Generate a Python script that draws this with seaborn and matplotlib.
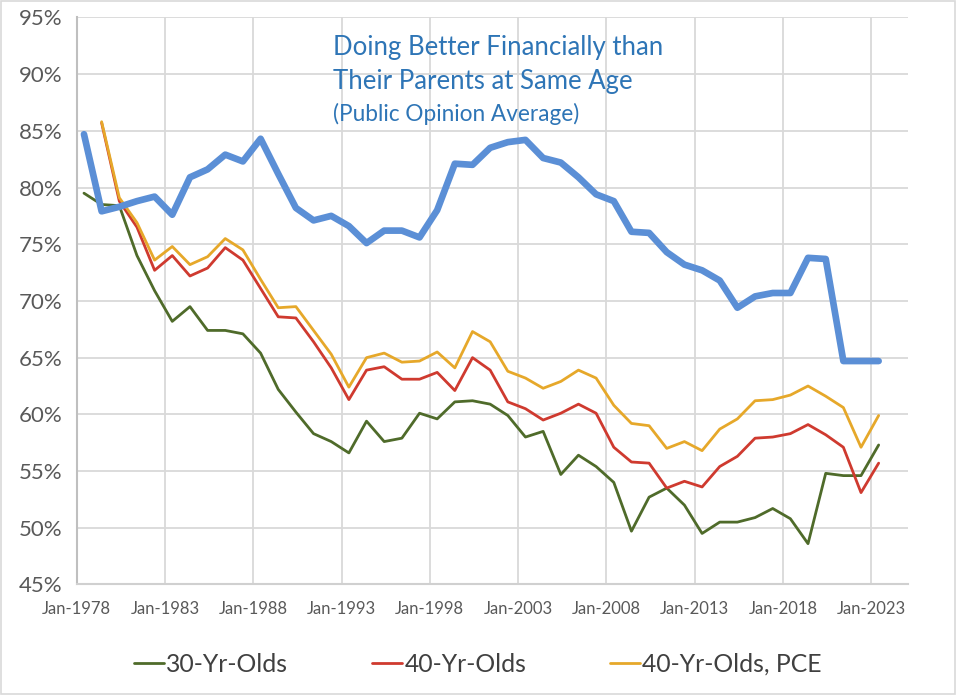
import numpy as np
import pandas as pd
import matplotlib
matplotlib.use("Agg")
import matplotlib.pyplot as plt
import matplotlib.dates as mdates
from matplotlib.ticker import FuncFormatter
import seaborn as sns

# Values (percent), one point per year (mid-year)
years_all = list(range(1978, 2024))
years_40 = list(range(1979, 2024))

opinion_avg = [84.7, 77.9, 78.3, 78.8, 79.2, 77.6, 80.9, 81.6, 82.9, 82.3,
               84.3, 81.2, 78.2, 77.1, 77.5, 76.6, 75.1, 76.2, 76.2, 75.6,
               78.0, 82.1, 82.0, 83.5, 84.0, 84.2, 82.6, 82.2, 80.9, 79.4,
               78.8, 76.1, 76.0, 74.3, 73.2, 72.7, 71.8, 69.4, 70.4, 70.7,
               70.7, 73.8, 73.7, 64.7, 64.7, 64.7]

olds_30 = [79.5, 78.5, 78.4, 74.0, 70.9, 68.2, 69.5, 67.4, 67.4, 67.1,
           65.4, 62.2, 60.2, 58.3, 57.6, 56.6, 59.4, 57.6, 57.9, 60.1,
           59.6, 61.1, 61.2, 60.9, 59.9, 58.0, 58.5, 54.7, 56.4, 55.4,
           54.0, 49.7, 52.7, 53.5, 52.0, 49.5, 50.5, 50.5, 50.9, 51.7,
           50.8, 48.6, 54.8, 54.6, 54.6, 57.3]

olds_40 = [85.7, 78.8, 76.5, 72.7, 74.0, 72.2, 72.9, 74.7, 73.6, 71.1,
           68.6, 68.5, 66.4, 64.1, 61.3, 63.9, 64.2, 63.1, 63.1, 63.7,
           62.1, 65.0, 63.9, 61.1, 60.5, 59.5, 60.1, 60.9, 60.1, 57.1,
           55.8, 55.7, 53.5, 54.1, 53.6, 55.4, 56.3, 57.9, 58.0, 58.3,
           59.1, 58.2, 57.1, 53.1, 55.7]

olds_40_pce = [85.8, 79.1, 76.9, 73.6, 74.8, 73.2, 73.9, 75.5, 74.5, 71.9,
               69.4, 69.5, 67.4, 65.3, 62.4, 65.0, 65.4, 64.6, 64.7, 65.5,
               64.1, 67.3, 66.4, 63.8, 63.2, 62.3, 62.9, 63.9, 63.2, 60.8,
               59.2, 59.0, 57.0, 57.6, 56.8, 58.7, 59.6, 61.2, 61.3, 61.7,
               62.5, 61.6, 60.6, 57.1, 59.9]

tick_years = list(range(1978, 2024, 5))

df_all = pd.DataFrame({
    "date": pd.to_datetime([f"{y}-06-01" for y in years_all]),
    "opinion": opinion_avg,
    "olds30": olds_30,
})
df_40 = pd.DataFrame({
    "date": pd.to_datetime([f"{y}-06-01" for y in years_40]),
    "olds40": olds_40,
    "pce": olds_40_pce,
})

sns.set_style("whitegrid", {"grid.color": "#d9d9d9", "axes.edgecolor": "#bfbfbf"})
plt.rcParams["font.family"] = ["Lato", "DejaVu Sans"]

fig = plt.figure(figsize=(9.56, 6.95), dpi=100)
ax = fig.add_axes([0.0802, 0.159, 0.8698, 0.816])

sns.lineplot(data=df_all, x="date", y="olds30", color="#4f6b2a", linewidth=2.0,
             label="30-Yr-Olds", ax=ax)
sns.lineplot(data=df_40, x="date", y="olds40", color="#cf3a2f", linewidth=2.0,
             label="40-Yr-Olds", ax=ax)
sns.lineplot(data=df_40, x="date", y="pce", color="#e6a82a", linewidth=2.0,
             label="40-Yr-Olds, PCE", ax=ax)
sns.lineplot(data=df_all, x="date", y="opinion", color="#5b8fd6", linewidth=4.8,
             label="_nolegend_", ax=ax)

ax.set_xlim(pd.Timestamp("1978-01-01"), pd.Timestamp("2025-02-01"))
ax.set_ylim(45, 95)
ax.set_yticks(np.arange(45, 96, 5))
ax.yaxis.set_major_formatter(FuncFormatter(lambda v, p: f"{v:.0f}%"))
ax.set_xticks(pd.to_datetime([f"{y}-01-01" for y in tick_years]))
ax.xaxis.set_major_formatter(mdates.DateFormatter("%b-%Y"))
ax.set_xlabel("")
ax.set_ylabel("")

ax.grid(True, color="#d9d9d9", linewidth=1.3)
for side in ["top", "right"]:
    ax.spines[side].set_visible(False)
ax.spines["left"].set_color("#bfbfbf")
ax.spines["left"].set_linewidth(1.5)
ax.spines["bottom"].set_color("#d0d0d0")
ax.spines["bottom"].set_linewidth(1.5)

ax.tick_params(axis="y", labelsize=16, labelcolor="#595959", length=0, pad=10)
ax.tick_params(axis="x", labelsize=12, labelcolor="#595959", length=0, pad=12)

# Title text inside the plot area
title_color = "#2e75b6"
fig.text(333 / 956, 1 - 47 / 695, "Doing Better Financially than", color=title_color,
         fontsize=18.5, va="center", ha="left")
fig.text(333 / 956, 1 - 82 / 695, "Their Parents at Same Age", color=title_color,
         fontsize=18.5, va="center", ha="left")
fig.text(333 / 956, 1 - 114 / 695, "(Public Opinion Average)", color=title_color,
         fontsize=16.3, va="center", ha="left")

handles, labels = ax.get_legend_handles_labels()
ax.get_legend().remove()
leg = fig.legend(handles, labels, loc="center", bbox_to_anchor=(0.5, 1 - 664 / 695),
                 ncol=3, frameon=False, fontsize=17.8, handlelength=1.2,
                 handletextpad=0.1, columnspacing=3.4)
for t in leg.get_texts():
    t.set_color("#404040")

fig.patches.append(plt.Rectangle((0.001, 0.001), 0.998, 0.998, transform=fig.transFigure,
                                 fill=False, edgecolor="#d9d9d9", linewidth=1.2))

fig.savefig("out.png", dpi=100, facecolor="white")
